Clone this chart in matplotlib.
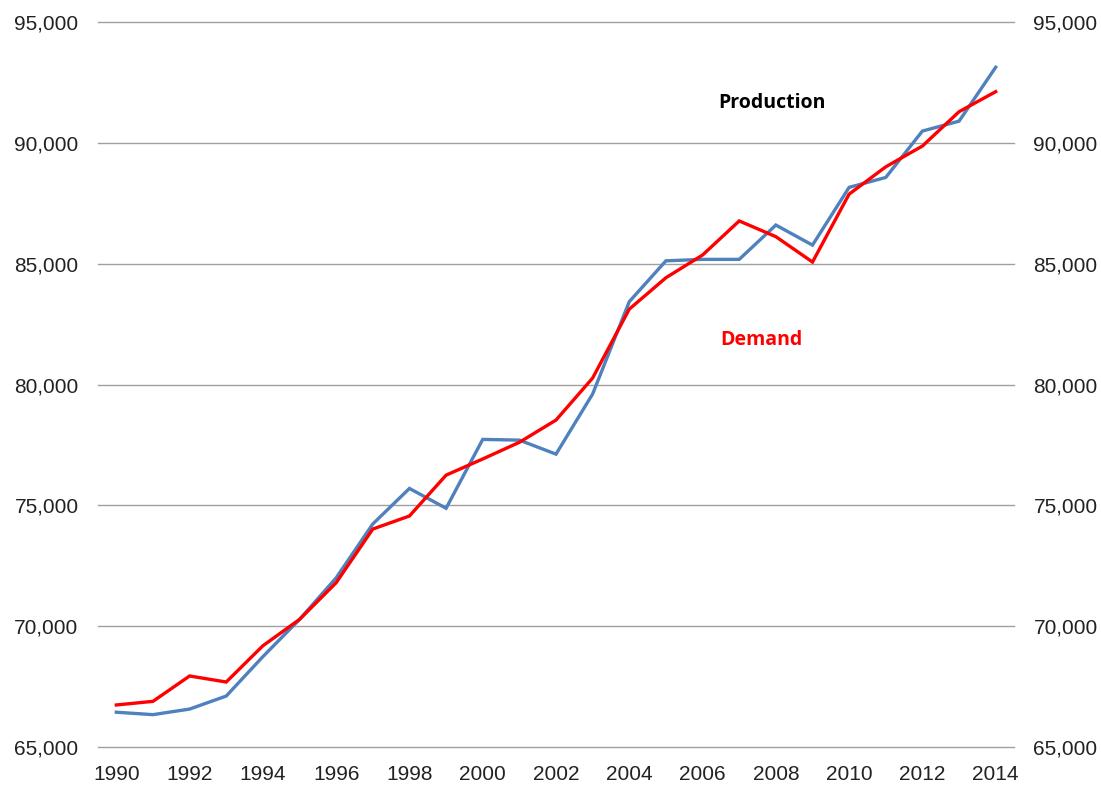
import matplotlib
matplotlib.use("Agg")
import matplotlib.pyplot as plt
from matplotlib.ticker import FuncFormatter

# data
years = list(range(1990, 2015))
production = [66440, 66340, 66570, 67110, 68740, 70280, 72000, 74230, 75700, 74880,
              77730, 77700, 77120, 79610, 83430, 85120, 85180, 85180, 86600, 85770,
              88160, 88570, 90490, 90900, 93130]
demand = [66740, 66890, 67940, 67690, 69190, 70280, 71800, 74020, 74560, 76250,
          76920, 77610, 78530, 80270, 83120, 84420, 85360, 86770, 86120, 85070,
          87880, 89010, 89870, 91290, 92120]
yticks = [65000, 70000, 75000, 80000, 85000, 90000, 95000]

plt.rcParams['font.family'] = ['Liberation Sans', 'DejaVu Sans']

fig = plt.figure(figsize=(11.01, 7.88), dpi=100)
ax = fig.add_axes([0.089, 0.052, 0.832, 0.920])

ax.plot(years, production, color='#4f81bd', lw=2.4, solid_joinstyle='miter')
ax.plot(years, demand, color='#ff0000', lw=2.4, solid_joinstyle='miter')

ax.set_xlim(1989.5, 2014.5)
ax.set_ylim(65000, 95000)
ax.set_yticks(yticks)
ax.set_xticks(years[::2])
ax.yaxis.set_major_formatter(FuncFormatter(lambda v, p: f'{int(v):,}'))
ax.grid(axis='y', color='#a0a0a0', lw=1)
for gl in ax.get_ygridlines():
    gl.set_clip_on(False)
ax.set_axisbelow(True)
for s in ax.spines.values():
    s.set_visible(False)
ax.tick_params(length=0, labelsize=15, labelcolor='#222222', labelright=True)
ax.tick_params(axis='y', pad=14)
ax.tick_params(axis='x', pad=13)

ax.text(2007.9, 91650, 'Production', fontsize=14, fontweight='bold',
        family=['Open Sans', 'DejaVu Sans'], color='black', ha='center', va='center')
ax.text(2007.6, 81850, 'Demand', fontsize=14, fontweight='bold',
        family=['Open Sans', 'DejaVu Sans'], color='#ff0000', ha='center', va='center')

fig.savefig('out.png', dpi=100)
